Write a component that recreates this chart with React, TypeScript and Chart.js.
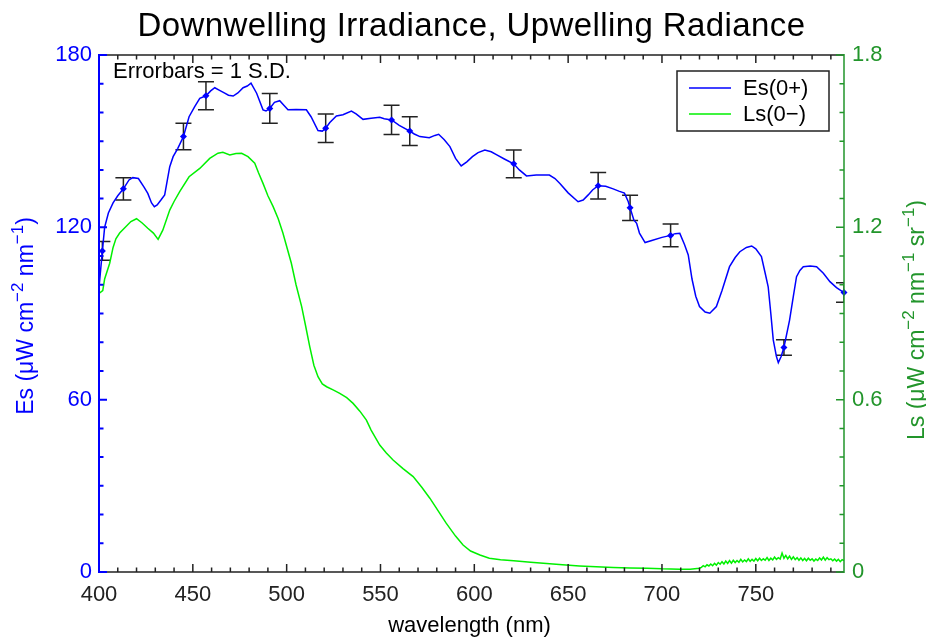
import React, { useEffect, useRef } from "react";
import { Chart, registerables } from "chart.js";

Chart.register(...registerables);

// ---- data ----
const esWave = [400, 401.8, 403, 405, 407.5, 410, 413, 416, 418, 421, 424, 426, 428, 429.5, 431, 433, 435, 437.7, 439.5, 442, 445, 448, 451, 453.7, 457, 459.5, 461.7, 464, 467, 469, 471.5, 474, 476.8, 479, 481, 484, 487.4, 489, 491, 493.5, 496.3, 498.5, 500.7, 505, 510.5, 513, 516.7, 519, 520.8, 523, 526.5, 530, 534.5, 537, 540.7, 545, 549.6, 552, 555.9, 560, 565.6, 568, 571, 576, 579, 581, 584, 587, 590, 593, 596, 599, 602, 605.6, 609, 612, 616, 621, 624, 627.8, 633, 640, 643, 645.6, 650, 655.3, 658, 660.7, 663, 666, 670, 674, 677, 680, 682, 683, 685, 686.5, 688, 691, 695, 700, 704.6, 707, 709.5, 712, 714, 716, 718, 720, 723, 725.5, 729, 732, 736, 739, 741.5, 745, 747.8, 750, 753, 755, 756.6, 758, 759.3, 761, 762, 763.5, 765, 768, 770, 771.7, 773.5, 775.3, 779, 782.4, 786, 789.5, 793, 797];
const esValue = [99, 111.8, 120, 125, 128.5, 131, 133.4, 136.5, 137.3, 137, 134, 131.8, 128.5, 127.2, 127.8, 129.5, 131.3, 141.1, 144.6, 147.5, 151.6, 158.5, 162, 164.9, 165.8, 167.5, 168.6, 167.8, 166.7, 166, 165.7, 166.8, 168.6, 169.2, 170.2, 166.7, 160.9, 160.5, 161.4, 163.5, 164.1, 162.5, 160.9, 161, 160.9, 158.5, 153.7, 153.5, 154.5, 156.5, 158.8, 159.2, 160.5, 159.5, 157.6, 158, 158.3, 157.8, 157.4, 155.5, 153.5, 152.5, 151.6, 151.2, 152, 152.4, 150.5, 148.1, 144, 141.4, 142.8, 144.6, 146, 146.9, 146.3, 145.2, 143.8, 142.1, 140, 137.9, 138.2, 138.2, 137, 135.3, 132, 128.9, 129.5, 131.3, 133, 134.5, 134.3, 133.4, 132.6, 131.9, 129, 126.8, 122.6, 121.4, 118, 114.7, 115.5, 116.5, 117.2, 117.8, 117.9, 114, 110.4, 102, 96, 92.4, 90.5, 90.1, 92.4, 98, 106.3, 109.5, 111.5, 113, 113.5, 112.5, 109.8, 104, 99.3, 90, 80.8, 75, 72.9, 75, 78.2, 87.7, 96, 102.8, 105, 106.3, 106.5, 106.3, 104, 101.1, 99, 97.3];

const lsWave = [400, 402, 403, 405.7, 407.5, 409, 411, 414, 417, 420, 423, 426, 429, 431.5, 434, 437.7, 440, 443, 448, 453.7, 459, 463.4, 466, 469.7, 473, 476, 479.4, 483, 485, 487.4, 490, 492.8, 495.5, 498, 502.5, 505, 508, 510, 512.3, 514.5, 516.7, 519, 521.3, 525, 528.3, 532, 535.4, 539, 542.5, 545, 549.6, 553, 556.7, 562, 567.4, 572, 576.3, 581, 585, 590, 594, 598, 603, 608, 614, 621, 630, 638.5, 647, 656, 665, 674, 683, 692, 700, 709.5, 715, 720, 721, 722, 723, 724, 725, 726, 727, 728, 729, 730, 731, 732, 733, 734, 735, 736, 737, 738, 739, 740, 741, 742, 743, 744, 745, 746, 747, 748, 749, 750, 751, 752, 753, 754, 755, 756, 757, 758, 759, 760, 761, 762, 763, 764, 765, 766, 767, 768, 769, 770, 771, 772, 773, 774, 775, 776, 777, 778, 779, 780, 781, 782, 783, 784, 785, 786, 787, 788, 789, 790, 791, 792, 793, 794, 795, 796, 797];
const lsValue = [0.97, 0.98, 1.02, 1.075, 1.13, 1.16, 1.18, 1.2, 1.22, 1.23, 1.215, 1.197, 1.18, 1.158, 1.19, 1.26, 1.29, 1.324, 1.376, 1.405, 1.44, 1.458, 1.461, 1.452, 1.457, 1.458, 1.446, 1.423, 1.39, 1.353, 1.31, 1.272, 1.23, 1.18, 1.075, 1.0, 0.924, 0.86, 0.785, 0.72, 0.68, 0.655, 0.645, 0.633, 0.622, 0.607, 0.587, 0.56, 0.529, 0.494, 0.442, 0.415, 0.39, 0.36, 0.332, 0.295, 0.257, 0.21, 0.17, 0.125, 0.094, 0.073, 0.059, 0.048, 0.043, 0.039, 0.034, 0.03, 0.025, 0.021, 0.018, 0.016, 0.014, 0.013, 0.011, 0.01, 0.01, 0.013, 0.016, 0.022, 0.018, 0.025, 0.021, 0.028, 0.022, 0.03, 0.024, 0.033, 0.027, 0.036, 0.028, 0.038, 0.03, 0.04, 0.031, 0.041, 0.033, 0.04, 0.034, 0.044, 0.035, 0.042, 0.036, 0.046, 0.037, 0.044, 0.038, 0.047, 0.039, 0.048, 0.04, 0.046, 0.041, 0.05, 0.04, 0.048, 0.042, 0.052, 0.044, 0.05, 0.045, 0.066, 0.048, 0.058, 0.046, 0.055, 0.044, 0.053, 0.043, 0.05, 0.041, 0.049, 0.04, 0.047, 0.039, 0.048, 0.041, 0.046, 0.038, 0.045, 0.04, 0.049, 0.042, 0.052, 0.041, 0.05, 0.043, 0.046, 0.039, 0.045, 0.038, 0.044, 0.036, 0.043, 0.04];

const ebWave = [401.8, 413, 445, 457, 491, 520.8, 555.9, 565.6, 621, 666, 683, 704.6, 765, 797];
const ebValue = [111.8, 133.4, 151.6, 165.8, 161.4, 154.5, 157.4, 153.5, 142.1, 134.5, 126.8, 117.2, 78.2, 97.3];
const ebSd = [3.3, 3.9, 4.6, 4.9, 5.2, 5.0, 5.1, 5.0, 4.8, 4.6, 4.4, 4.0, 2.7, 3.4];

const xTicks = [400, 450, 500, 550, 600, 650, 700, 750];
const esTicks = [0, 60, 120, 180];
const lsTicks = [0, 0.6, 1.2, 1.8];

const titleText = "Downwelling Irradiance, Upwelling Radiance";
const xTitle = "wavelength (nm)";
const esTitle = [["Es (μW cm", false], ["−2", true], [" nm", false], ["−1", true], [")", false]] as [string, boolean][];
const lsTitle = [["Ls (μW cm", false], ["−2", true], [" nm", false], ["−1", true], [" sr", false], ["−1", true], [")", false]] as [string, boolean][];
const noteText = "Errorbars = 1 S.D.";
const legendLabels = ["Es(0+)", "Ls(0−)"];

const FONT = "'Liberation Sans', Arial, sans-serif";
const BLUE = "#0000ff";
const GREEN_LINE = "#00f000";
const GREEN_AXIS = "#22952b";

function drawRich(ctx: CanvasRenderingContext2D, parts: [string, boolean][], cx: number, cy: number, size: number, supSize: number, color: string) {
  ctx.save();
  ctx.translate(cx, cy);
  ctx.rotate(-Math.PI / 2);
  ctx.fillStyle = color;
  ctx.textBaseline = "alphabetic";
  ctx.textAlign = "left";
  let total = 0;
  for (const [t, sup] of parts) {
    ctx.font = `${sup ? supSize : size}px ${FONT}`;
    total += ctx.measureText(t).width;
  }
  let x = -total / 2;
  for (const [t, sup] of parts) {
    ctx.font = `${sup ? supSize : size}px ${FONT}`;
    ctx.fillText(t, x, sup ? -size * 0.45 : 0);
    x += ctx.measureText(t).width;
  }
  ctx.restore();
}

const decorPlugin = {
  id: "decor",
  beforeDatasetsDraw(chart: any) {
    const { ctx, chartArea: a, scales } = chart;
    const xs = scales.x, ys = scales.yEs;
    ctx.save();
    ctx.beginPath();
    ctx.rect(a.left, a.top, a.right - a.left, a.bottom - a.top);
    ctx.clip();
    ctx.strokeStyle = "#222222";
    ctx.lineWidth = 1.5;
    for (let i = 0; i < ebWave.length; i++) {
      const px = xs.getPixelForValue(ebWave[i]);
      const t = ys.getPixelForValue(ebValue[i] + ebSd[i]);
      const b = ys.getPixelForValue(ebValue[i] - ebSd[i]);
      ctx.beginPath();
      ctx.moveTo(px, t); ctx.lineTo(px, b);
      ctx.moveTo(px - 8, t); ctx.lineTo(px + 8, t);
      ctx.moveTo(px - 8, b); ctx.lineTo(px + 8, b);
      ctx.stroke();
    }
    ctx.restore();
  },
  afterDraw(chart: any) {
    const { ctx, chartArea: a, scales } = chart;
    const xs = scales.x, ye = scales.yEs, yl = scales.yLs;
    ctx.save();
    // x axes (bottom & top)
    ctx.strokeStyle = "#222222";
    ctx.lineWidth = 1.5;
    ctx.beginPath();
    ctx.moveTo(a.left, a.bottom); ctx.lineTo(a.right, a.bottom);
    ctx.moveTo(a.left, a.top); ctx.lineTo(a.right, a.top);
    for (let v = 400; v < 800; v += 10) {
      const px = xs.getPixelForValue(v);
      const len = v % 50 === 0 ? 8 : 4.5;
      ctx.moveTo(px, a.bottom); ctx.lineTo(px, a.bottom - len);
      ctx.moveTo(px, a.top); ctx.lineTo(px, a.top + len);
    }
    ctx.stroke();
    // left axis
    ctx.strokeStyle = BLUE;
    ctx.lineWidth = 2;
    ctx.beginPath();
    ctx.moveTo(a.left, a.bottom + 1); ctx.lineTo(a.left, a.top - 1);
    for (let v = 0; v <= 180; v += 10) {
      const py = ye.getPixelForValue(v);
      const len = v % 60 === 0 ? 8 : 4.5;
      ctx.moveTo(a.left, py); ctx.lineTo(a.left + len, py);
    }
    ctx.stroke();
    // right axis
    ctx.strokeStyle = GREEN_AXIS;
    ctx.lineWidth = 1.5;
    ctx.beginPath();
    ctx.moveTo(a.right, a.bottom + 1); ctx.lineTo(a.right, a.top - 1);
    for (let k = 0; k <= 18; k++) {
      const py = yl.getPixelForValue(k / 10);
      const len = k % 6 === 0 ? 8 : 4.5;
      ctx.moveTo(a.right, py); ctx.lineTo(a.right - len, py);
    }
    ctx.stroke();

    // title
    ctx.fillStyle = "#000";
    ctx.font = `33px ${FONT}`;
    (ctx as any).letterSpacing = "0.4px";
    ctx.textAlign = "center";
    ctx.textBaseline = "alphabetic";
    ctx.fillText(titleText, (a.left + a.right) / 2, 36);
    (ctx as any).letterSpacing = "0px";

    // x title
    ctx.font = `22px ${FONT}`;
    ctx.fillText(xTitle, (a.left + a.right) / 2 - 2, 632);

    // note
    ctx.textAlign = "left";
    ctx.fillText(noteText, a.left + 14, a.top + 23);

    // y titles
    drawRich(ctx, esTitle, 33, 316, 23, 17, BLUE);
    drawRich(ctx, lsTitle, 924, 320, 23, 17, GREEN_AXIS);

    // legend
    const bl = a.right - 167, bt = a.top + 16, bw = 152, bh = 60;
    ctx.fillStyle = "#fff";
    ctx.fillRect(bl, bt, bw, bh);
    ctx.strokeStyle = "#222";
    ctx.lineWidth = 1.5;
    ctx.strokeRect(bl, bt, bw, bh);
    const ds = chart.data.datasets;
    ctx.font = `22px ${FONT}`;
    ctx.textBaseline = "middle";
    for (let i = 0; i < 2; i++) {
      const ry = bt + 17 + i * 26;
      ctx.strokeStyle = ds[i].borderColor;
      ctx.lineWidth = 1.5;
      ctx.beginPath();
      ctx.moveTo(bl + 12, ry); ctx.lineTo(bl + 54, ry);
      ctx.stroke();
      ctx.fillStyle = "#000";
      ctx.fillText(legendLabels[i], bl + 66, ry + 1);
    }
    ctx.restore();
  },
};

export default function App() {
  const ref = useRef<HTMLCanvasElement | null>(null);
  useEffect(() => {
    if (!ref.current) return;
    const chart = new Chart(ref.current, {
      type: "line",
      data: {
        datasets: [
          {
            label: legendLabels[0],
            data: esWave.map((x, i) => ({ x, y: esValue[i] })),
            borderColor: BLUE,
            borderWidth: 1.5,
            pointRadius: 0,
            yAxisID: "yEs",
            tension: 0,
          },
          {
            label: legendLabels[1],
            data: lsWave.map((x, i) => ({ x, y: lsValue[i] })),
            borderColor: GREEN_LINE,
            borderWidth: 1.5,
            pointRadius: 0,
            yAxisID: "yLs",
            tension: 0,
          },
          {
            label: "markers",
            data: ebWave.map((x, i) => ({ x, y: ebValue[i] })),
            showLine: false,
            pointStyle: "rectRot",
            pointRadius: 3.5,
            backgroundColor: BLUE,
            borderColor: BLUE,
            borderWidth: 0,
            yAxisID: "yEs",
            clip: false,
          } as any,
        ],
      },
      options: {
        animation: false,
        responsive: false,
        layout: { padding: { top: 55, left: 0, right: 0, bottom: 0 } },
        plugins: { legend: { display: false }, title: { display: false }, tooltip: { enabled: false } },
        scales: {
          x: {
            type: "linear",
            min: 400,
            max: 797,
            afterBuildTicks: (s: any) => { s.ticks = xTicks.map((v) => ({ value: v })); },
            afterFit: (s: any) => { s.height = 72; },
            grid: { display: false, drawTicks: false },
            border: { display: false },
            ticks: { color: "#222", font: { family: FONT, size: 22 }, padding: 10, maxRotation: 0, autoSkip: false },
          },
          yEs: {
            type: "linear",
            position: "left",
            min: 0,
            max: 180,
            afterBuildTicks: (s: any) => { s.ticks = esTicks.map((v) => ({ value: v })); },
            afterFit: (s: any) => { s.width = 99; },
            grid: { display: false, drawTicks: false },
            border: { display: false },
            ticks: { color: BLUE, font: { family: FONT, size: 22 }, padding: 7 },
          },
          yLs: {
            type: "linear",
            position: "right",
            min: 0,
            max: 1.8,
            afterBuildTicks: (s: any) => { s.ticks = lsTicks.map((v) => ({ value: v })); },
            afterFit: (s: any) => { s.width = 82; },
            grid: { display: false, drawTicks: false },
            border: { display: false },
            ticks: {
              color: GREEN_AXIS,
              font: { family: FONT, size: 22 },
              padding: 8,
              callback: (v: any) => (v === 0 ? "0" : Number(v).toFixed(1)),
            },
          },
        },
      },
      plugins: [decorPlugin],
    });
    return () => chart.destroy();
  }, []);
  return (
    <div style={{ position: "fixed", left: 0, top: 0, width: 926, height: 644, background: "#fff" }}>
      <canvas ref={ref} width={926} height={644} style={{ width: 926, height: 644, display: "block" }} />
    </div>
  );
}
